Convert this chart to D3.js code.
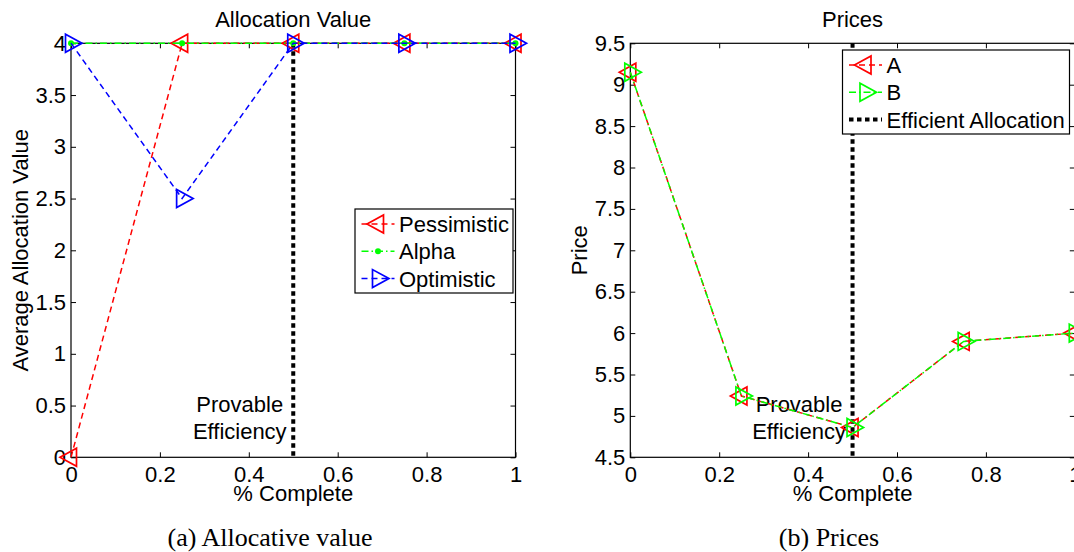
<!DOCTYPE html>
<html>
<head>
<meta charset="utf-8">
<script src="https://cdn.jsdelivr.net/npm/d3@7/dist/d3.min.js"></script>
<style>
  html, body { margin: 0; padding: 0; background: #fff; }
  svg { display: block; }
  text { font-family: "Liberation Sans", Arial, Helvetica, sans-serif; fill: #000; }
  .caption { font-family: "Liberation Serif", "Times New Roman", serif; }
</style>
</head>
<body>
<svg id="chart" width="1074" height="552"></svg>
<script>
// ---- data ----
const completion = [0, 0.25, 0.5, 0.75, 1];

const pessimistic = [0, 4, 4, 4, 4];
const alpha       = [4, 4, 4, 4, 4];
const optimistic  = [4, 2.5, 4, 4, 4];

const priceA = [9.15, 5.24, 4.86, 5.90, 6.00];
const priceB = [9.15, 5.24, 4.86, 5.90, 6.00];

const efficientPoint = 0.5;

const xTicks = [0, 0.2, 0.4, 0.6, 0.8, 1];
const xTickLabels = ["0", "0.2", "0.4", "0.6", "0.8", "1"];
const allocTicks = [0, 0.5, 1, 1.5, 2, 2.5, 3, 3.5, 4];
const allocTickLabels = ["0", "0.5", "1", "1.5", "2", "2.5", "3", "3.5", "4"];
const priceTicks = [4.5, 5, 5.5, 6, 6.5, 7, 7.5, 8, 8.5, 9, 9.5];
const priceTickLabels = ["4.5", "5", "5.5", "6", "6.5", "7", "7.5", "8", "8.5", "9", "9.5"];

// ---- layout ----
const svg = d3.select("#chart");
const FONT = 22;
const plotTop = 43.3, plotBottom = 457.3;

const RED = "#ff0000", GREEN = "#00ff00", BLUE = "#0000ff";
const DASH = "6,4", DASHDOT = "7,3,1.5,3", DOTTED = "4.5,3.5";

function triangle(dir) {
  // centroid at the origin; dir -1 points left, +1 points right
  const tip = 11 * dir, base = -5.5 * dir, h = 9;
  return `M${tip},0L${base},${-h}L${base},${h}Z`;
}

function drawMarker(g, s, px, py) {
  if (s.marker === "left" || s.marker === "right") {
    g.append("path").attr("d", triangle(s.marker === "left" ? -1 : 1))
      .attr("transform", `translate(${px},${py})`)
      .attr("fill", "none").attr("stroke", s.color).attr("stroke-width", 1.7);
  } else if (s.marker === "dot") {
    g.append("circle").attr("cx", px).attr("cy", py).attr("r", 3).attr("fill", s.color);
  }
}

function drawPanel(opts) {
  const x = d3.scaleLinear().domain([0, 1]).range([opts.left, opts.right]);
  const y = d3.scaleLinear().domain(opts.yDomain).range([plotBottom, plotTop]);
  const g = svg.append("g");

  // ticks on all four sides, pointing inward
  const styleAxis = sel => {
    sel.select(".domain").remove();
    sel.selectAll("line").attr("stroke", "#000").attr("stroke-width", 1);
    sel.selectAll("text").attr("font-size", FONT)
      .attr("font-family", "Liberation Sans, Arial, sans-serif").attr("fill", "#000");
  };
  g.append("g").attr("transform", `translate(0,${plotBottom})`)
    .call(d3.axisBottom(x).tickValues(xTicks).tickSizeInner(-5).tickSizeOuter(0)
      .tickPadding(9).tickFormat((d, i) => xTickLabels[i]))
    .call(styleAxis);
  g.append("g").attr("transform", `translate(0,${plotTop})`)
    .call(d3.axisTop(x).tickValues(xTicks).tickSizeInner(-5).tickSizeOuter(0).tickFormat(""))
    .call(styleAxis);
  g.append("g").attr("transform", `translate(${opts.left},0)`)
    .call(d3.axisLeft(y).tickValues(opts.yTicks).tickSizeInner(-5).tickSizeOuter(0)
      .tickPadding(5).tickFormat((d, i) => opts.yTickLabels[i]))
    .call(styleAxis);
  g.append("g").attr("transform", `translate(${opts.right},0)`)
    .call(d3.axisRight(y).tickValues(opts.yTicks).tickSizeInner(-5).tickSizeOuter(0).tickFormat(""))
    .call(styleAxis);

  // frame
  g.append("rect")
    .attr("x", opts.left).attr("y", plotTop)
    .attr("width", opts.right - opts.left).attr("height", plotBottom - plotTop)
    .attr("fill", "none").attr("stroke", "#000").attr("stroke-width", 1.2);

  // efficient-allocation marker line
  g.append("line")
    .attr("x1", x(efficientPoint)).attr("x2", x(efficientPoint))
    .attr("y1", plotTop).attr("y2", plotBottom)
    .attr("stroke", "#000").attr("stroke-width", 4).attr("stroke-dasharray", DOTTED);

  // annotation
  const ann = g.append("text").attr("text-anchor", "middle").attr("font-size", FONT);
  ann.append("tspan").attr("x", x(efficientPoint) - 53.5).attr("y", 411.5).text("Provable");
  ann.append("tspan").attr("x", x(efficientPoint) - 53.5).attr("y", 438.5).text("Efficiency");

  // series
  opts.series.forEach(s => {
    const line = d3.line().x((d, i) => x(completion[i])).y(d => y(d));
    g.append("path").datum(s.values)
      .attr("d", line).attr("fill", "none")
      .attr("stroke", s.color).attr("stroke-width", 1.5)
      .attr("stroke-dasharray", s.dash);
    s.values.forEach((v, i) => drawMarker(g, s, x(completion[i]), y(v)));
  });

  // titles
  const cx = (opts.left + opts.right) / 2;
  g.append("text").attr("x", cx).attr("y", 26.5).attr("text-anchor", "middle")
    .attr("font-size", FONT).text(opts.title);
  g.append("text").attr("x", cx).attr("y", 501).attr("text-anchor", "middle")
    .attr("font-size", FONT).text("% Complete");
  g.append("text").attr("transform", `translate(${opts.yLabelX},${(plotTop + plotBottom) / 2}) rotate(-90)`)
    .attr("text-anchor", "middle").attr("font-size", FONT).text(opts.yLabel);

  // legend
  const L = opts.legend;
  const lg = g.append("g");
  lg.append("rect").attr("x", L.x).attr("y", L.y).attr("width", L.w).attr("height", L.h)
    .attr("fill", "#fff").attr("stroke", "#000").attr("stroke-width", 1.2);
  L.items.forEach((s, i) => {
    const ry = L.y + 15 + 27.3 * i;
    lg.append("line").attr("x1", L.x + 6.5).attr("x2", L.x + 39.5)
      .attr("y1", ry).attr("y2", ry)
      .attr("stroke", s.color).attr("stroke-width", s.width || 1.5)
      .attr("stroke-dasharray", s.dash);
    drawMarker(lg, s, L.x + 23, ry);
    lg.append("text").attr("x", L.x + 44).attr("y", ry + 8)
      .attr("font-size", FONT).text(s.name);
  });

  // caption below the panel
  svg.append("text").attr("class", "caption")
    .attr("x", opts.captionX).attr("y", 546).attr("text-anchor", "middle")
    .attr("font-size", 26).text(opts.caption);
}

const allocSeries = [
  { name: "Pessimistic", values: pessimistic, color: RED, dash: DASH, marker: "left" },
  { name: "Alpha", values: alpha, color: GREEN, dash: DASHDOT, marker: "dot" },
  { name: "Optimistic", values: optimistic, color: BLUE, dash: DASH, marker: "right" }
];
const priceSeries = [
  { name: "A", values: priceA, color: RED, dash: DASH, marker: "left" },
  { name: "B", values: priceB, color: GREEN, dash: DASHDOT, marker: "right" }
];

drawPanel({
  left: 71, right: 515.5,
  yDomain: [0, 4], yTicks: allocTicks, yTickLabels: allocTickLabels,
  title: "Allocation Value", yLabel: "Average Allocation Value", yLabelX: 28,
  series: allocSeries,
  legend: { x: 355, y: 209, w: 158, h: 84, items: allocSeries },
  caption: "(a) Allocative value", captionX: 270
});

drawPanel({
  left: 630.3, right: 1074.8,
  yDomain: [4.5, 9.5], yTicks: priceTicks, yTickLabels: priceTickLabels,
  title: "Prices", yLabel: "Price", yLabelX: 587,
  series: priceSeries,
  legend: { x: 842.5, y: 50, w: 227, h: 84, items: priceSeries.concat([
    { name: "Efficient Allocation", color: "#000", dash: DOTTED, width: 4, marker: "none" }
  ]) },
  caption: "(b) Prices", captionX: 829
});
</script>
</body>
</html>
